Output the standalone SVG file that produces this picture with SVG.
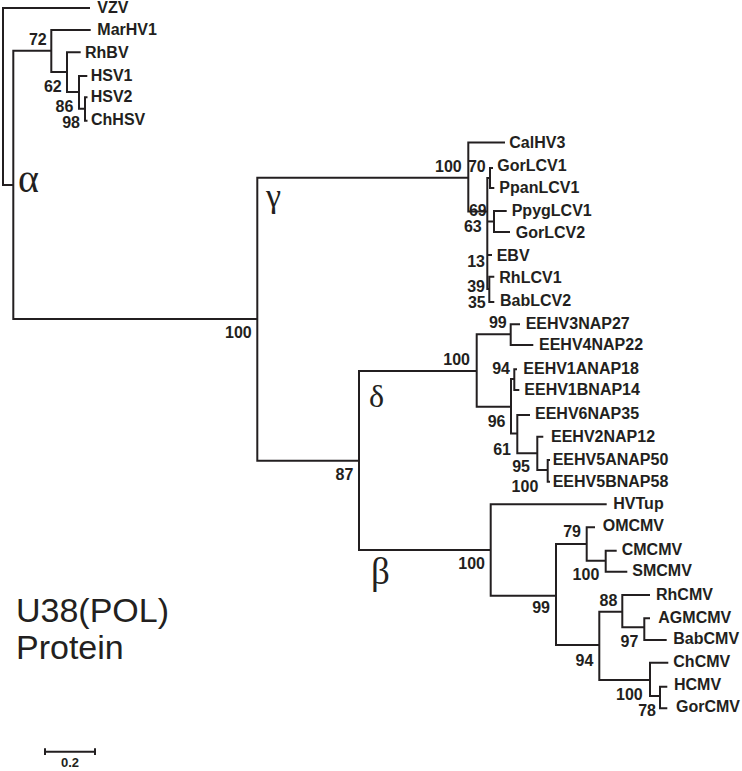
<svg xmlns="http://www.w3.org/2000/svg" width="742" height="771" viewBox="0 0 742 771">
<style>
.br{fill:none;stroke:#231f20;stroke-width:2;stroke-linejoin:miter;stroke-linecap:butt}
.lf{font-family:"Liberation Sans",Arial,sans-serif;font-weight:bold;font-size:16px;fill:#231f20}
.bs{font-family:"Liberation Sans",Arial,sans-serif;font-weight:bold;font-size:16px;fill:#231f20;text-anchor:end}
.gk{font-family:"Liberation Serif","Times New Roman",serif;fill:#231f20}
.ti{font-family:"Liberation Sans",Arial,sans-serif;font-size:34px;fill:#231f20}
</style>
<rect width="742" height="771" fill="#ffffff"/>
<g id="connectors" class="br">
<path d="M90,8 H3 V185 H13.3"/>
<path d="M51.3,50.7 H13.3 V319 H257.3"/>
<path d="M90.7,30 H51.3 V72 H67"/>
<path d="M80.7,52.3 H67 V92 H79"/>
<path d="M87.3,76 H79 V108.7 H85"/>
<path d="M87.5,97.3 H85 V120.7 H87.5"/>
<path d="M468.3,177.7 H257.3 V460.7 H359"/>
<path d="M505,142.5 H468.3 V211.5 H487.3"/>
<path d="M490,178 H487.3 V289 H489.3"/>
<path d="M487.3,221.5 H494"/>
<path d="M487.3,255 H492"/>
<path d="M493,168 H490 V188 H494.3"/>
<path d="M506.7,211 H494 V232 H510"/>
<path d="M494.3,276.7 H489.3 V302 H494.3"/>
<path d="M476.7,371 H359 V550 H490.7"/>
<path d="M510.7,334.3 H476.7 V406.7 H511"/>
<path d="M520,324.3 H510.7 V345 H533.3"/>
<path d="M514.3,379 H511 V433.5 H517.3"/>
<path d="M517,369.3 H514.3 V390 H519.3"/>
<path d="M530,415 H517.3 V453.3 H537.3"/>
<path d="M543.3,436.7 H537.3 V470 H547.7"/>
<path d="M550,460 H547.7 V481.7 H550"/>
<path d="M606.7,504.3 H490.7 V595.7 H556"/>
<path d="M586.7,544 H556 V645 H599.3"/>
<path d="M595,527.3 H586.7 V560.7 H605.7"/>
<path d="M616.7,550.7 H605.7 V571.7 H627.3"/>
<path d="M622.3,611.7 H599.3 V680 H650"/>
<path d="M650,595 H622.3 V627.3 H644.3"/>
<path d="M650,618.3 H644.3 V640 H666.7"/>
<path d="M668.3,662.7 H650 V696 H660"/>
<path d="M667.3,686.7 H660 V708.3 H667.3"/>
</g>
<g id="leaves">
<g id="n-VZV"><text class="lf" x="97.3" y="12.5">VZV</text></g>
<g id="n-MarHV1"><text class="lf" x="97.3" y="35">MarHV1</text></g>
<g id="n-RhBV"><text class="lf" x="85" y="57.7">RhBV</text></g>
<g id="n-HSV1"><text class="lf" x="90.7" y="80.7">HSV1</text></g>
<g id="n-HSV2"><text class="lf" x="90.7" y="102.3">HSV2</text></g>
<g id="n-ChHSV"><text class="lf" x="91" y="125">ChHSV</text></g>
<g id="n-CalHV3"><text class="lf" x="509.3" y="148.3">CalHV3</text></g>
<g id="n-GorLCV1"><text class="lf" x="497.3" y="170.7">GorLCV1</text></g>
<g id="n-PpanLCV1"><text class="lf" x="499.3" y="192.7">PpanLCV1</text></g>
<g id="n-PpygLCV1"><text class="lf" x="511.7" y="215.7">PpygLCV1</text></g>
<g id="n-GorLCV2"><text class="lf" x="515.7" y="238.3">GorLCV2</text></g>
<g id="n-EBV"><text class="lf" x="496.7" y="260.7">EBV</text></g>
<g id="n-RhLCV1"><text class="lf" x="499.3" y="282.7">RhLCV1</text></g>
<g id="n-BabLCV2"><text class="lf" x="500" y="305.7">BabLCV2</text></g>
<g id="n-EEHV3NAP27"><text class="lf" x="525.7" y="328.5">EEHV3NAP27</text></g>
<g id="n-EEHV4NAP22"><text class="lf" x="539" y="350">EEHV4NAP22</text></g>
<g id="n-EEHV1ANAP18"><text class="lf" x="523.3" y="374">EEHV1ANAP18</text></g>
<g id="n-EEHV1BNAP14"><text class="lf" x="524.3" y="395">EEHV1BNAP14</text></g>
<g id="n-EEHV6NAP35"><text class="lf" x="535" y="419">EEHV6NAP35</text></g>
<g id="n-EEHV2NAP12"><text class="lf" x="551" y="441.7">EEHV2NAP12</text></g>
<g id="n-EEHV5ANAP50"><text class="lf" x="552.7" y="465">EEHV5ANAP50</text></g>
<g id="n-EEHV5BNAP58"><text class="lf" x="552.7" y="486.7">EEHV5BNAP58</text></g>
<g id="n-HVTup"><text class="lf" x="613.3" y="509">HVTup</text></g>
<g id="n-OMCMV"><text class="lf" x="602.7" y="530.7">OMCMV</text></g>
<g id="n-CMCMV"><text class="lf" x="621.7" y="555">CMCMV</text></g>
<g id="n-SMCMV"><text class="lf" x="632.3" y="576">SMCMV</text></g>
<g id="n-RhCMV"><text class="lf" x="656" y="600">RhCMV</text></g>
<g id="n-AGMCMV"><text class="lf" x="658.3" y="622.7">AGMCMV</text></g>
<g id="n-BabCMV"><text class="lf" x="673.3" y="644">BabCMV</text></g>
<g id="n-ChCMV"><text class="lf" x="673.3" y="667.3">ChCMV</text></g>
<g id="n-HCMV"><text class="lf" x="674" y="690">HCMV</text></g>
<g id="n-GorCMV"><text class="lf" x="676" y="711.7">GorCMV</text></g>
</g>
<g id="bootstrap" class="bs">
<text x="46.7" y="45">72</text>
<text x="61.7" y="91.7">62</text>
<text x="73.3" y="111.7">86</text>
<text x="80" y="128.3">98</text>
<text x="461.7" y="171.7">100</text>
<text x="485.7" y="171.7">70</text>
<text x="486.7" y="215.5">69</text>
<text x="481.7" y="231.7">63</text>
<text x="485" y="266.7">13</text>
<text x="485" y="291.7">39</text>
<text x="485.7" y="308.3">35</text>
<text x="251.7" y="338.3">100</text>
<text x="506.7" y="328.3">99</text>
<text x="470" y="365">100</text>
<text x="510" y="374">94</text>
<text x="505.5" y="427">96</text>
<text x="511" y="455">61</text>
<text x="530" y="471.7">95</text>
<text x="538.3" y="491.7">100</text>
<text x="353.3" y="480">87</text>
<text x="485" y="569">100</text>
<text x="581" y="537.3">79</text>
<text x="599.3" y="580">100</text>
<text x="550" y="613.3">99</text>
<text x="617.3" y="605.7">88</text>
<text x="638.3" y="646.7">97</text>
<text x="593.3" y="666">94</text>
<text x="642.7" y="700">100</text>
<text x="656" y="716">78</text>
</g>
<g id="clade-labels" class="gk">
<text x="18" y="191.5" font-size="40">α</text>
<text x="266" y="207" font-size="34">γ</text>
<text x="369" y="407" font-size="32">δ</text>
<text x="371" y="584" font-size="37">β</text>
</g>
<g id="title" class="ti">
<text x="16" y="621.7">U38(POL)</text>
<text x="16" y="659.3">Protein</text>
</g>
<g id="scale-bar">
<path class="br" d="M45,751.7 H95 M45,748.3 V755 M95,748.3 V755"/>
<text x="70" y="766.7" font-family="Liberation Sans,Arial,sans-serif" font-weight="bold" font-size="13" fill="#231f20" text-anchor="middle">0.2</text>
</g>
</svg>
